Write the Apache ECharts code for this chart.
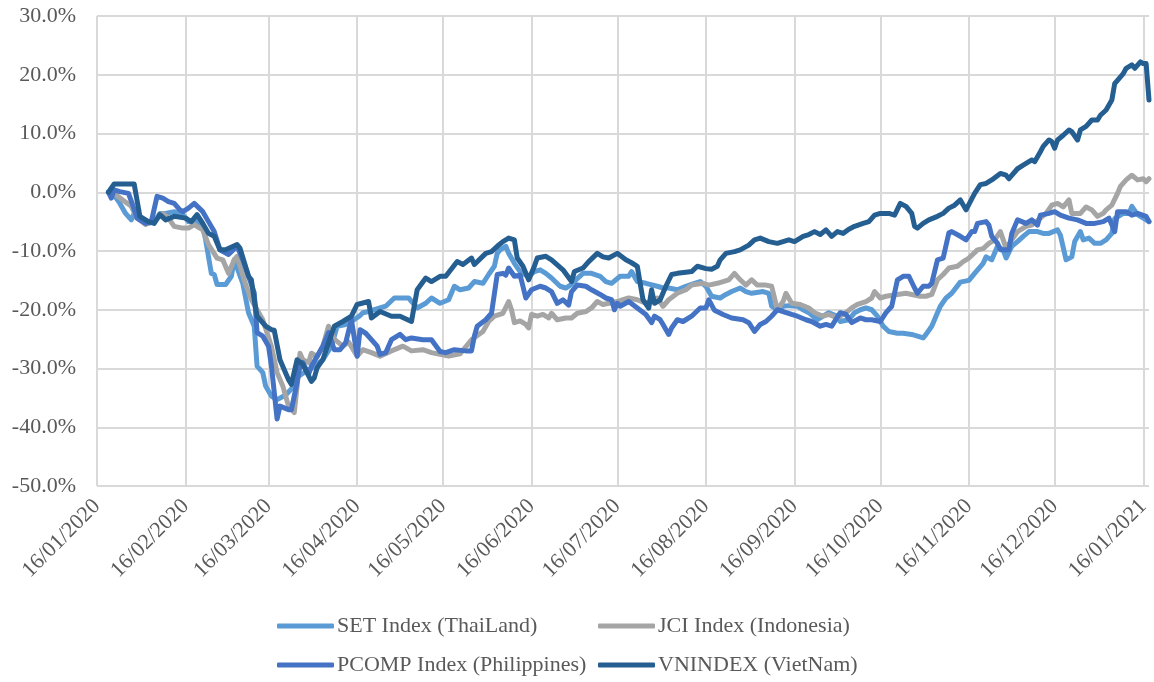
<!DOCTYPE html>
<html>
<head>
<meta charset="utf-8" />
<title>ASEAN indices 2020</title>
<script src="https://cdn.jsdelivr.net/npm/echarts@6.0.0/dist/echarts.min.js"></script>
<style>
  html, body { margin: 0; padding: 0; background: #fff; }
  #chart { width: 1154px; height: 682px; }
</style>
</head>
<body>
<div id="chart"></div>
<script>
// x = days counted from 16/01/2020, y = change since start (%)
const setIndex = [[4,0],[6,-0.5],[8,-1.9],[10,-3.6],[12,-4.7],[13,-3.6],[15,-4.4],[18,-5.3],[20,-5.0],[22,-3.6],[24,-3.6],[27,-3.3],[30,-3.8],[32,-5.0],[34,-4.7],[37,-5.8],[38,-8.1],[40,-13.8],[41,-14.0],[42,-15.7],[45,-15.7],[47,-14.3],[48,-11.5],[51,-15.5],[53,-20.5],[55,-22.8],[56,-29.6],[58,-30.7],[59,-33.0],[61,-34.7],[63,-35.3],[66,-34.5],[68,-33.5],[70,-31.5],[73,-30.5],[75,-30.0],[79,-28.5],[82,-26.2],[84,-22.8],[87,-22.5],[89,-22.0],[92,-21.0],[93,-20.5],[95,-20.3],[97,-20.0],[101,-19.4],[104,-18.0],[109,-18.0],[112,-19.7],[115,-18.9],[117,-18.0],[120,-18.9],[123,-18.3],[125,-16.0],[127,-16.6],[130,-16.3],[132,-15.2],[135,-15.5],[137,-14.0],[139,-12.6],[140,-10.4],[141,-9.8],[143,-9.2],[144,-10.4],[146,-12.1],[148,-13.5],[150,-14.1],[151,-14.3],[153,-13.5],[155,-13.2],[157,-13.8],[159,-14.6],[162,-16.0],[164,-16.3],[166,-15.7],[168,-14.7],[170,-13.8],[173,-13.8],[176,-14.3],[178,-15.2],[180,-15.5],[183,-14.3],[186,-14.3],[187,-13.5],[189,-15.2],[192,-15.5],[196,-16.0],[198,-16.3],[200,-16.3],[203,-16.6],[206,-16.0],[209,-15.5],[211,-15.2],[213,-16.0],[215,-17.7],[218,-18.0],[220,-17.4],[222,-16.9],[225,-16.3],[227,-16.9],[229,-17.2],[233,-16.9],[235,-17.2],[236,-19.4],[238,-20.0],[240,-19.4],[242,-19.3],[245,-19.4],[247,-20.0],[249,-20.5],[252,-21.7],[254,-21.1],[256,-20.5],[259,-21.1],[260,-22.0],[263,-21.7],[265,-20.5],[267,-20.0],[269,-19.7],[271,-20.0],[273,-21.1],[275,-22.8],[277,-23.7],[280,-24.0],[282,-24.0],[285,-24.2],[287,-24.5],[289,-24.8],[290,-24.2],[292,-22.8],[294,-20.5],[295,-19.4],[297,-18.0],[299,-17.2],[302,-15.3],[305,-15.0],[307,-13.8],[310,-12.1],[311,-11.0],[313,-11.5],[315,-9.2],[317,-9.8],[318,-11.2],[320,-9.2],[322,-8.4],[324,-7.5],[326,-6.7],[329,-6.7],[331,-7.0],[333,-7.0],[336,-6.4],[337,-7.3],[339,-11.5],[341,-11.0],[342,-8.4],[344,-6.7],[345,-8.1],[347,-7.8],[349,-8.7],[351,-8.7],[353,-8.1],[355,-7.0],[356,-4.5],[359,-3.6],[361,-3.6],[362,-2.4],[364,-3.8],[366,-4.4],[368,-5.0]]

const jciIndex = [[4,0],[6,-0.2],[9,-1.3],[12,-2.4],[14,-4.4],[17,-5.5],[20,-4.7],[23,-3.6],[25,-4.4],[27,-5.8],[30,-6.1],[32,-6.1],[34,-5.5],[37,-6.4],[39,-8.9],[42,-11.2],[44,-11.5],[46,-13.8],[48,-11.5],[49,-10.9],[52,-15.7],[54,-18.3],[58,-21.7],[61,-26.2],[63,-30.7],[65,-33.0],[67,-36.4],[69,-37.5],[70,-33.0],[71,-27.4],[72,-28.5],[74,-29.0],[75,-27.4],[77,-28.0],[79,-26.2],[81,-22.8],[83,-25.0],[86,-26.2],[88,-25.5],[91,-27.9],[93,-26.8],[96,-27.3],[99,-27.9],[103,-27.0],[107,-26.2],[110,-27.0],[114,-26.8],[117,-27.3],[120,-27.6],[123,-27.9],[127,-27.5],[131,-25.1],[135,-23.7],[137,-22.0],[139,-21.1],[142,-20.6],[144,-18.6],[145,-20.0],[146,-22.2],[148,-21.9],[150,-22.5],[151,-23.1],[152,-20.8],[154,-21.1],[156,-20.8],[158,-21.4],[159,-20.6],[161,-21.7],[164,-21.4],[166,-21.4],[168,-20.6],[171,-20.3],[173,-19.7],[175,-18.6],[177,-19.1],[179,-18.9],[182,-18.6],[184,-18.3],[186,-18.0],[189,-18.3],[192,-18.9],[196,-18.0],[198,-19.4],[200,-18.3],[203,-17.2],[206,-16.6],[208,-15.8],[212,-15.5],[214,-15.8],[217,-15.5],[219,-15.2],[221,-14.9],[223,-13.8],[225,-14.9],[227,-15.8],[229,-14.9],[231,-15.8],[234,-15.8],[236,-16.0],[238,-20.0],[240,-18.6],[241,-17.2],[243,-18.9],[246,-19.1],[249,-19.7],[251,-20.5],[254,-21.1],[256,-20.8],[259,-21.4],[262,-20.5],[264,-19.7],[266,-19.1],[269,-18.6],[271,-18.0],[272,-16.9],[274,-18.0],[276,-17.7],[280,-17.4],[283,-17.2],[285,-17.4],[288,-17.7],[290,-17.7],[292,-17.4],[294,-14.9],[296,-14.0],[298,-12.9],[301,-12.6],[303,-11.8],[305,-11.2],[308,-9.8],[310,-9.6],[312,-8.7],[314,-8.1],[316,-6.7],[318,-9.5],[320,-8.1],[322,-6.7],[325,-5.8],[327,-5.6],[330,-4.4],[332,-3.6],[334,-2.2],[336,-1.9],[338,-2.5],[340,-1.3],[341,-3.6],[344,-3.6],[346,-2.5],[348,-3.0],[350,-4.1],[352,-3.6],[353,-3.0],[355,-2.2],[357,-0.2],[358,1.0],[360,2.1],[362,2.9],[364,2.1],[366,2.3],[367,1.8],[368,2.3]]

const pcompIndex = [[4,0],[5,-1.0],[6,0.4],[8,0.1],[11,-0.2],[12,-1.5],[14,-4.4],[17,-5.3],[19,-5.0],[21,-0.7],[23,-1.0],[25,-1.6],[27,-1.9],[29,-3.0],[30,-3.3],[32,-2.7],[34,-1.9],[37,-3.3],[39,-5.0],[41,-6.7],[43,-9.8],[46,-10.6],[49,-9.2],[51,-11.5],[53,-14.3],[55,-17.1],[56,-23.9],[58,-24.5],[60,-26.2],[61,-29.5],[63,-38.6],[64,-36.4],[67,-37.0],[68,-37.0],[70,-32.4],[71,-29.6],[72,-29.0],[74,-31.0],[75,-29.6],[77,-27.9],[79,-26.2],[81,-23.9],[83,-26.8],[85,-26.8],[87,-25.6],[89,-21.7],[91,-27.9],[92,-23.4],[94,-24.0],[96,-25.1],[98,-26.2],[99,-27.6],[101,-27.3],[103,-25.1],[106,-24.2],[108,-25.1],[110,-24.8],[114,-25.1],[117,-25.1],[120,-27.1],[122,-27.3],[125,-26.8],[129,-27.0],[131,-27.0],[132,-24.5],[133,-22.8],[136,-21.7],[138,-20.6],[140,-14.0],[142,-13.8],[143,-14.1],[144,-12.9],[146,-14.3],[148,-14.1],[149,-16.0],[150,-18.0],[152,-16.6],[155,-16.0],[157,-16.3],[159,-16.9],[161,-18.9],[163,-18.3],[165,-19.2],[166,-16.9],[168,-15.8],[171,-16.0],[173,-16.6],[176,-17.4],[178,-18.0],[180,-18.3],[181,-20.0],[182,-18.9],[183,-19.4],[186,-18.6],[189,-19.7],[192,-20.8],[194,-22.2],[195,-21.1],[197,-21.7],[198,-22.5],[200,-24.2],[201,-23.1],[203,-21.7],[205,-22.0],[208,-21.1],[211,-19.7],[213,-19.7],[214,-18.3],[216,-20.1],[219,-20.8],[222,-21.4],[226,-21.7],[228,-22.2],[230,-23.7],[232,-22.5],[234,-22.0],[236,-21.1],[238,-20.0],[240,-20.3],[243,-20.8],[245,-21.1],[248,-21.7],[250,-22.0],[253,-22.8],[255,-22.5],[257,-22.8],[260,-20.5],[262,-20.8],[264,-22.2],[267,-21.4],[269,-21.7],[271,-21.7],[274,-22.0],[276,-20.5],[278,-19.4],[280,-14.9],[282,-14.3],[284,-14.3],[286,-16.3],[287,-17.2],[289,-16.0],[291,-16.0],[292,-15.5],[294,-11.5],[296,-11.2],[298,-6.9],[299,-6.7],[302,-7.5],[304,-8.1],[306,-6.7],[307,-6.7],[308,-5.3],[311,-5.0],[312,-5.6],[313,-7.5],[315,-8.7],[316,-9.8],[319,-9.8],[320,-7.0],[322,-4.7],[325,-5.3],[327,-4.7],[329,-5.6],[330,-3.9],[333,-3.6],[335,-3.3],[337,-3.9],[340,-4.4],[343,-4.7],[346,-5.3],[349,-5.3],[352,-5.0],[354,-4.4],[356,-6.7],[357,-3.3],[360,-3.3],[362,-3.9],[364,-3.6],[367,-4.1],[368,-5.0]]

const vnIndex = [[4,0],[6,1.4],[13,1.4],[15,-4.1],[18,-5.0],[20,-5.3],[22,-3.8],[24,-4.7],[27,-4.1],[31,-4.4],[33,-5.0],[35,-3.8],[37,-5.3],[39,-7.0],[41,-7.5],[43,-9.8],[45,-9.8],[49,-8.9],[50,-9.5],[53,-14.3],[54,-14.9],[55,-18.3],[56,-21.1],[59,-22.8],[61,-23.4],[62,-23.5],[64,-28.5],[67,-31.9],[68,-32.7],[70,-28.5],[72,-29.3],[75,-32.2],[76,-31.6],[77,-29.9],[79,-28.5],[81,-25.6],[83,-22.8],[86,-22.0],[89,-21.1],[91,-19.1],[95,-18.6],[96,-21.4],[99,-20.3],[103,-21.1],[106,-21.1],[110,-22.0],[112,-16.6],[115,-14.6],[117,-15.2],[120,-14.3],[122,-14.3],[126,-11.8],[128,-12.3],[131,-11.2],[132,-12.3],[136,-10.4],[138,-10.1],[140,-9.2],[142,-8.4],[144,-7.8],[146,-8.1],[147,-11.2],[149,-12.6],[151,-14.9],[153,-12.6],[154,-11.2],[157,-10.9],[159,-11.5],[163,-13.2],[166,-15.2],[167,-13.5],[170,-12.9],[172,-11.8],[175,-10.4],[177,-11.0],[179,-11.2],[182,-10.4],[185,-11.5],[187,-12.0],[189,-12.6],[190,-15.5],[191,-18.3],[193,-19.7],[194,-16.6],[195,-18.9],[197,-18.3],[199,-16.0],[201,-14.0],[203,-13.8],[206,-13.6],[208,-13.5],[210,-12.6],[213,-13.0],[215,-13.1],[217,-12.6],[218,-11.5],[220,-10.4],[223,-10.1],[225,-9.8],[228,-9.0],[230,-8.1],[232,-7.8],[235,-8.4],[238,-8.7],[242,-8.1],[244,-8.4],[247,-7.5],[249,-7.2],[251,-6.7],[253,-7.2],[255,-6.4],[257,-7.5],[259,-6.7],[261,-7.0],[263,-6.3],[265,-5.8],[268,-5.3],[270,-5.0],[272,-3.9],[274,-3.6],[277,-3.6],[279,-3.9],[281,-1.9],[283,-2.4],[285,-3.6],[286,-5.8],[287,-6.1],[289,-5.3],[291,-4.7],[294,-4.1],[296,-3.6],[298,-2.7],[300,-2.2],[302,-1.3],[304,-3.0],[307,-0.2],[309,1.3],[311,1.5],[313,2.1],[316,3.2],[318,2.9],[319,2.3],[322,4.0],[324,4.6],[326,5.2],[327,5.5],[328,5.2],[330,6.9],[331,7.8],[333,8.9],[334,8.6],[335,7.5],[336,8.9],[338,9.7],[340,10.6],[341,10.3],[343,8.9],[344,10.6],[346,11.2],[348,12.3],[350,12.3],[351,13.1],[353,14.0],[355,15.7],[356,18.5],[359,20.2],[360,21.1],[362,21.7],[363,21.1],[365,22.2],[366,21.9],[367,21.9],[368,15.7]]

const seriesNames = ["SET Index (ThaiLand)", "JCI Index (Indonesia)", "PCOMP Index (Philippines)", "VNINDEX (VietNam)"]
const seriesColors = ["#5B9BD5", "#A5A5A5", "#4472C4", "#255E91"]
const seriesData = [setIndex, jciIndex, pcompIndex, vnIndex]

// one category per calendar day, 16/01/2020 .. 18/01/2021
const days = []
const t0 = Date.UTC(2020, 0, 16)
for (let i = 0; i <= 368; i++) {
  const d = new Date(t0 + i * 86400000)
  const mm = String(d.getUTCMonth() + 1).padStart(2, "0")
  const dd = String(d.getUTCDate()).padStart(2, "0")
  days.push(d.getUTCFullYear() + "-" + mm + "-" + dd)
}
const isTick = (idx, val) => val.slice(8) === "16"

const font = "'Liberation Serif', 'Times New Roman', serif"
const grey = "#595959"

const legendBase = {
  orient: "vertical",
  top: 613,
  padding: 0,
  icon: "roundRect",
  itemWidth: 57,
  itemHeight: 5,
  itemGap: 13,
  textStyle: { color: grey, fontSize: 22, fontFamily: font, lineHeight: 26, padding: [0, 0, 0, -2] }
}

const chart = echarts.init(document.getElementById("chart"))
const option = {
  backgroundColor: "#fff",
  animation: false,
  textStyle: { fontFamily: font },
  grid: {
    left: 97,
    right: 5,
    top: 16,
    bottom: 196,
    outerBoundsMode: "none"
  },
  legend: [
    Object.assign({}, legendBase, { left: 277, data: [seriesNames[0], seriesNames[2]] }),
    Object.assign({}, legendBase, { left: 598, data: [seriesNames[1], seriesNames[3]] })
  ],
  xAxis: {
    type: "category",
    data: days,
    boundaryGap: false,
    axisLine: { show: false },
    axisTick: { show: false },
    axisLabel: {
      interval: isTick,
      rotate: 45,
      margin: 17,
      color: grey,
      fontSize: 22,
      fontFamily: font,
      formatter: function (v) {
        return v.slice(8) + "/" + v.slice(5, 7) + "/" + v.slice(0, 4)
      }
    },
    splitLine: {
      show: true,
      interval: isTick,
      lineStyle: { color: "#D9D9D9", width: 2 }
    }
  },
  yAxis: {
    type: "value",
    min: -50,
    max: 30,
    interval: 10,
    axisLine: { show: false },
    axisTick: { show: false },
    axisLabel: {
      margin: 21,
      color: grey,
      fontSize: 22,
      fontFamily: font,
      formatter: function (v) { return v.toFixed(1) + "%" }
    },
    splitLine: { lineStyle: { color: "#D9D9D9", width: 2 } }
  },
  series: seriesNames.map(function (name, i) {
    return {
      name: name,
      type: "line",
      data: seriesData[i],
      symbol: "none",
      color: seriesColors[i],
      lineStyle: { width: 5, color: seriesColors[i], cap: "round", join: "round" }
    }
  })
}
chart.setOption(option)
</script>
</body>
</html>
